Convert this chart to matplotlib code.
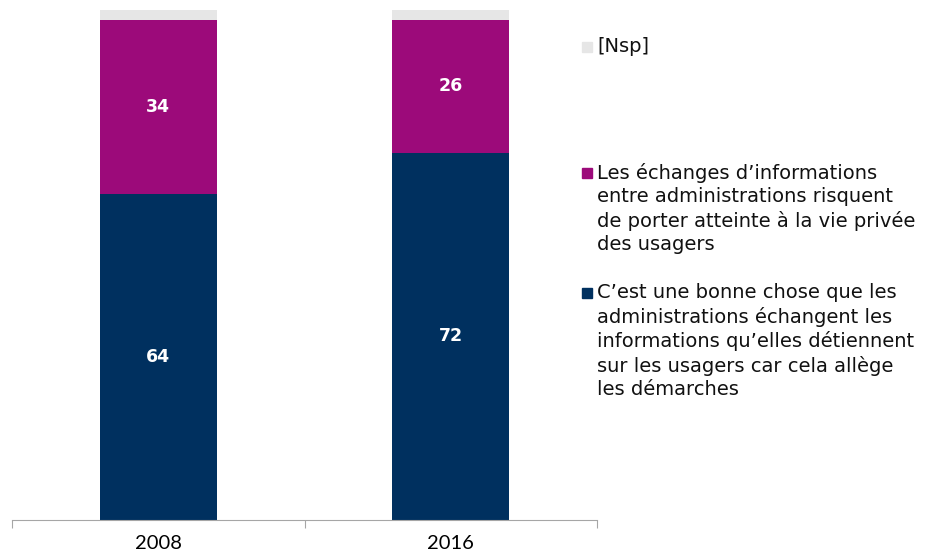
import numpy as np
import matplotlib.pyplot as plt
from matplotlib.patches import Rectangle

years = ["2008", "2016"]
bonne_chose = [64, 72]
vie_privee = [34, 26]
nsp = [2, 2]

labels = [
    "[Nsp]",
    "Les échanges d\u2019informations\nentre administrations risquent\nde porter atteinte à la vie privée\ndes usagers",
    "C\u2019est une bonne chose que les\nadministrations échangent les\ninformations qu\u2019elles détiennent\nsur les usagers car cela allège\nles démarches",
]

NAVY = "#00305F"
MAGENTA = "#9C0A7A"
GREY = "#E6E6E6"

W, H = 927, 554
fig = plt.figure(figsize=(W / 100, H / 100), dpi=100)
ax = fig.add_axes([12 / W, 1 - 520 / H, (597 - 12) / W, 510 / H])

x = np.arange(len(years))
bw = 0.4
ax.bar(x, bonne_chose, bw, color=NAVY)
ax.bar(x, vie_privee, bw, bottom=bonne_chose, color=MAGENTA)
ax.bar(x, nsp, bw, bottom=np.add(bonne_chose, vie_privee), color=GREY)

for i in range(len(years)):
    ax.text(x[i], bonne_chose[i] / 2, str(bonne_chose[i]), ha="center", va="center",
            color="white", fontsize=12.5, fontweight="bold")
    ax.text(x[i], bonne_chose[i] + vie_privee[i] / 2, str(vie_privee[i]), ha="center",
            va="center", color="white", fontsize=12.5, fontweight="bold")

ax.set_xlim(-0.5, 1.5)
ax.set_ylim(0, 100)
ax.set_yticks([])
for s in ["top", "right", "left"]:
    ax.spines[s].set_visible(False)
ax.spines["bottom"].set_color("#A6A6A6")
ax.set_xticks([-0.5, 0.5, 1.5])
ax.set_xticklabels([])
ax.tick_params(axis="x", length=6, color="#A6A6A6")
for i, yr in enumerate(years):
    ax.text(x[i], -0.046, yr, transform=ax.get_xaxis_transform(), ha="center",
            va="center", fontsize=14.5, family=["Lato", "DejaVu Sans"], color="#000000")

# legend, placed by hand like the original
leg_y = [47, 173, 293]
leg_col = [GREY, MAGENTA, NAVY]
for lab, yy, col in zip(labels, leg_y, leg_col):
    fig.patches.append(Rectangle((582 / W, 1 - (yy + 5) / H), 10 / W, 10 / H,
                                 transform=fig.transFigure, color=col))
    fig.text(597 / W, 1 - (yy - 10) / H, lab, ha="left", va="top",
             fontsize=14, linespacing=1.29, color="#111111")

fig.savefig("out.png", dpi=100)
